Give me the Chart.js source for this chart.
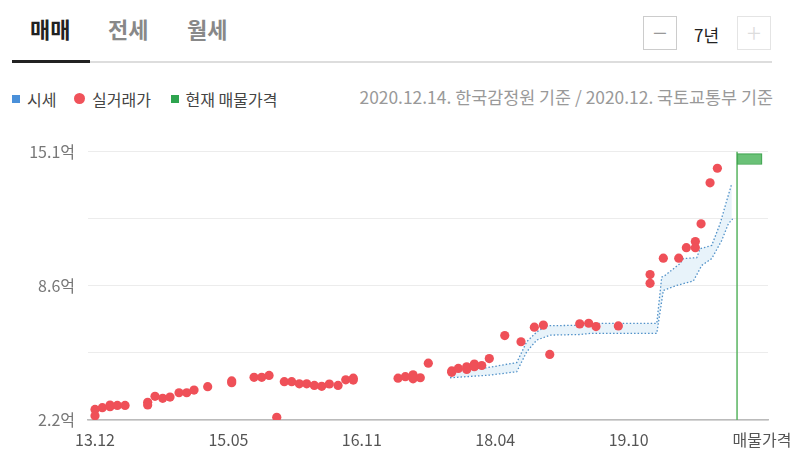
<!DOCTYPE html>
<html>
<head>
<meta charset="utf-8">
<script src="https://cdn.jsdelivr.net/npm/chart.js@4"></script>
<style>
  body { margin: 0; background: #fff; font-family: "Noto Sans CJK KR", "Noto Sans", sans-serif; }
  #wrap { position: relative; width: 796px; height: 470px; overflow: hidden; }
  .tab { position: absolute; top: 12px; font-size: 22px; font-weight: bold; color: #888; }
  .tab.on { color: #222; }
  #lineGray { position: absolute; left: 90px; top: 61px; width: 682px; height: 2px; background: #ddd; }
  #lineDark { position: absolute; left: 12px; top: 60px; width: 78px; height: 3px; background: #222; }
  .btn { position: absolute; top: 16px; width: 34px; height: 34px; border: 1px solid #ccc; box-sizing: border-box; color: #999; font-size: 26px; line-height: 30px; text-align: center; font-weight: 300; }
  #period { position: absolute; left: 694px; top: 22px; font-size: 17px; color: #222; }
  #legend { position: absolute; left: 12px; top: 84px; font-size: 16px; color: #444; }
  #legend span { display: inline-block; vertical-align: middle; }
  .sq { width: 8px; height: 8px; margin-right: 7px; }
  .dot { width: 11px; height: 11px; border-radius: 50%; margin-right: 7px; }
  #note { position: absolute; right: 23px; top: 84px; font-size: 17.4px; color: #999; }
  #chartBox { position: absolute; left: 0; top: 129px; width: 796px; height: 341px; }
</style>
</head>
<body>
<div id="wrap">
  <div class="tab on" style="left:30px">매매</div>
  <div class="tab" style="left:108px">전세</div>
  <div class="tab" style="left:187px">월세</div>
  <div id="lineGray"></div>
  <div id="lineDark"></div>
  <div class="btn" style="left:643px">−</div>
  <div id="period">7년</div>
  <div class="btn" style="left:737px;color:#ddd;border-color:#e4e4e4">+</div>
  <div id="legend">
    <span class="sq" style="background:#4a90d9"></span><span style="margin-right:14px">시세</span>
    <span class="dot" style="background:#f0525a"></span><span style="margin-right:16px">실거래가</span>
    <span class="sq" style="background:#2ea44f"></span><span>현재 매물가격</span>
  </div>
  <div id="note">2020.12.14. 한국감정원 기준 / 2020.12. 국토교통부 기준</div>
  <div id="chartBox"><canvas id="myChart"></canvas></div>
</div>
<script>
// x = months since 2013.12, y = 억
var xTickPos = [0, 17.5, 35, 52.5, 70, 87.5];
var xTickLabels = ['13.12', '15.05', '16.11', '18.04', '19.10', '매물가격'];
var yTickPos = [2.2, 5.425, 8.65, 11.875, 15.1];
var yTickLabels = ['2.2억', '', '8.6억', '', '15.1억'];

// 실거래가
var tradeX = [0, 0, 0.96, 1.97, 1.97, 2.93, 3.94, 6.91, 6.91, 7.87, 8.88, 9.84, 11.02, 12.03, 12.99,
    14.78, 17.93, 17.93, 20.86, 21.87, 22.83, 23.84, 24.83, 25.8, 26.8, 27.77, 28.77, 29.74, 30.74, 31.88,
    32.89, 33.88, 33.88, 39.75, 40.71, 41.72, 41.72, 42.67, 43.72, 46.79, 46.79, 47.66, 48.76, 48.76, 49.76,
    49.76, 50.73, 51.72, 53.75, 55.88, 57.63, 58.81, 59.65, 63.58, 64.76, 65.72, 68.65, 72.81, 72.81, 74.55,
    76.57, 77.57, 78.75, 78.75, 79.5, 80.68, 81.64];
var tradeY = [2.71, 2.41, 2.79, 2.92, 2.84, 2.9, 2.9, 3.05, 2.92, 3.34, 3.24, 3.3, 3.51, 3.51, 3.64,
    3.8, 4.08, 3.99, 4.25, 4.25, 4.34, 2.33, 4.04, 4.04, 3.94, 3.94, 3.86, 3.82, 3.93, 3.86,
    4.13, 4.21, 4.12, 4.21, 4.28, 4.37, 4.18, 4.23, 4.93, 4.56, 4.49, 4.68, 4.76, 4.63, 4.89,
    4.76, 4.82, 5.15, 6.26, 5.96, 6.66, 6.76, 5.35, 6.82, 6.85, 6.69, 6.72, 9.19, 8.77, 9.98,
    9.98, 10.48, 10.78, 10.48, 11.63, 13.6, 14.3];

// 시세 band (upper / lower)
var upperX = [46.57, 51.38, 55.32, 56.63, 57.94, 59.25, 64.94, 65.33, 73.69, 74.34, 74.78, 76.75, 77.18, 78.93, 79.37, 80.9, 81.99, 82.87, 83.52];
var upperY = [4.6, 4.71, 4.96, 5.96, 6.43, 6.73, 6.76, 6.84, 6.84, 9.07, 9.15, 9.72, 9.96, 10.0, 10.43, 10.59, 11.63, 12.75, 13.55];
var lowerX = [46.57, 51.82, 55.32, 56.63, 57.94, 59.69, 63.62, 64.94, 73.69, 74.55, 76.31, 78.49, 79.59, 80.9, 82.21, 83.08, 83.65];
var lowerY = [4.23, 4.36, 4.52, 5.48, 6.04, 6.28, 6.31, 6.36, 6.36, 8.43, 8.67, 8.88, 9.63, 9.96, 10.83, 11.63, 11.87];

// 현재 매물가격
var listingX = 84.22;
var listingLow = 14.48;
var listingHigh = 15.0;
var listingEndX = 87.5;

function toPoints(xs, ys) {
    var out = [];
    for (var i = 0; i < xs.length; i++) {
        out.push({x: xs[i], y: ys[i]});
    }
    return out;
}

var ctx = document.getElementById('myChart').getContext('2d');
var chart = new Chart(ctx, {
    type: 'scatter',
    data: {
        datasets: [{
            type: 'scatter',
            data: toPoints(tradeX, tradeY),
            pointRadius: 4.6,
            pointBackgroundColor: 'rgb(239,80,88)',
            pointBorderWidth: 0,
            order: 0
        }, {
            type: 'line',
            data: toPoints(upperX, upperY),
            borderColor: 'rgb(80,145,200)',
            borderWidth: 1.3,
            borderDash: [1.5, 2],
            pointRadius: 0,
            fill: false,
            order: 3
        }, {
            type: 'line',
            data: toPoints(lowerX, lowerY),
            borderColor: 'rgb(80,145,200)',
            borderWidth: 1.3,
            borderDash: [1.5, 2],
            pointRadius: 0,
            fill: '-1',
            backgroundColor: 'rgba(205,228,245,0.45)',
            order: 3
        }, {
            type: 'line',
            data: [{x: listingX, y: yTickPos[0]}, {x: listingX, y: yTickPos[4]}],
            borderColor: 'rgb(88,180,96)',
            borderWidth: 1.5,
            pointRadius: 0,
            order: 2
        }, {
            type: 'bar',
            data: [{x: (listingX + listingEndX) / 2, y: [listingLow, listingHigh]}],
            barThickness: 25,
            backgroundColor: 'rgba(98,190,112,0.95)',
            borderColor: 'rgb(60,160,75)',
            borderWidth: 1,
            borderSkipped: false,
            order: 1
        }]
    },
    options: {
        responsive: true,
        maintainAspectRatio: false,
        animation: false,
        layout: { padding: { top: 0, right: 28, left: 0, bottom: 0 } },
        plugins: {
            legend: { display: false },
            tooltip: { enabled: false }
        },
        scales: {
            x: {
                type: 'linear',
                min: -0.92,
                max: 88.28,
                offset: false,
                grid: { display: false },
                border: { color: '#bbb', width: 1.5 },
                afterBuildTicks: function(s) {
                    s.ticks = xTickPos.map(function(v) { return {value: v}; });
                },
                afterFit: function(s) { s.height = 50; },
                ticks: {
                    padding: 2,
                    color: '#555',
                    font: { family: '"Noto Sans CJK KR", sans-serif', size: 16 },
                    maxRotation: 0,
                    autoSkip: false,
                    callback: function(v, i) { return xTickLabels[i]; }
                }
            },
            y: {
                type: 'linear',
                min: yTickPos[0],
                max: yTickPos[4],
                grid: { color: '#ececec', drawTicks: false },
                border: { display: false },
                afterBuildTicks: function(s) {
                    s.ticks = yTickPos.map(function(v) { return {value: v}; });
                },
                afterFit: function(s) { s.width = 88; },
                ticks: {
                    padding: 13,
                    color: '#777',
                    font: { family: '"Noto Sans CJK KR", sans-serif', size: 16 },
                    callback: function(v, i) { return yTickLabels[i]; }
                }
            }
        }
    }
});
</script>
</body>
</html>
